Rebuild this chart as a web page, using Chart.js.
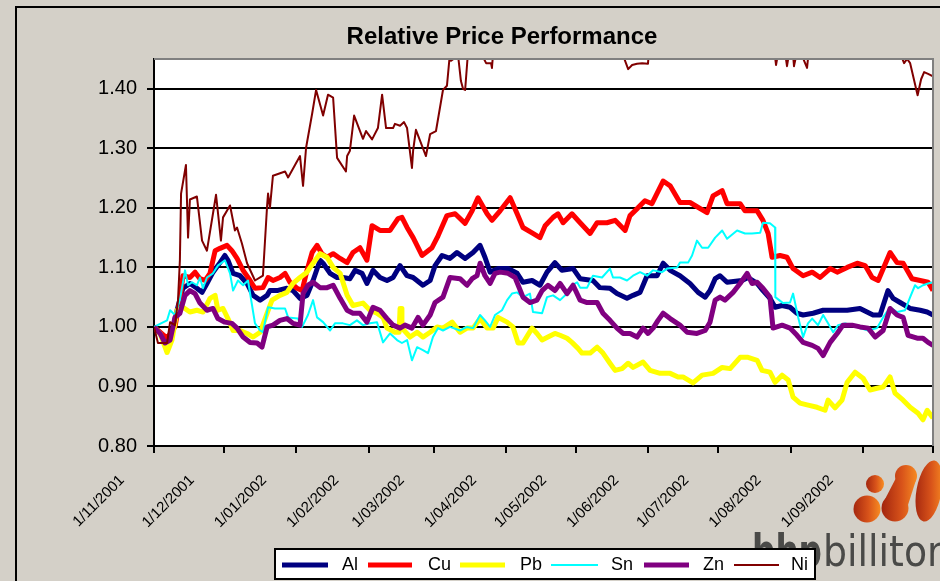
<!DOCTYPE html>
<html><head><meta charset="utf-8">
<script src="https://cdn.jsdelivr.net/npm/chart.js@4.4.1/dist/chart.umd.min.js"></script>
<style>html,body{margin:0;padding:0;background:#d4d0c8;overflow:hidden}#wrap{width:940px;height:581px}</style>
</head><body><div id="wrap"><canvas id="c" width="940" height="581"></canvas></div>
<script>
// ---- data (x = days since 1 Nov 2001, y = relative price) ----
const monthTicks = [0,30,61,92,120,151,181,212,242,273,304,334];
const monthLabels = ['1/11/2001','1/12/2001','1/01/2002','1/02/2002','1/03/2002','1/04/2002','1/05/2002','1/06/2002','1/07/2002','1/08/2002','1/09/2002',''];
const yTicks = [0.8,0.9,1.0,1.1,1.2,1.3,1.4];
const seriesNames = ['Al','Cu','Pb','Sn','Zn','Ni'];
const seriesColors = ['#000080','#ff0000','#ffff00','#00ffff','#800080','#800000'];
const seriesWidths = [5,5,5,2,5,2];

const alDays = [0,5.6,7.7,9.9,12.4,15.4,18.4,20.6,22.7,25.3,28.3,30.4,31.7,33.9,36.9,39.9,42.5,45.5,48.5,49.7,52.7,57.0,59.6,62.6,65.6,68.2,71.2,72.5,75.5,78.5,81.0,84.0,86.2,89.2,91.3,93.9,96.9,99.9,102.5,105.5,108.5,111.1,115.3,118.4,120.5,123.5,126.9,129.9,133.4,136.8,139.8,141.9,144.1,147.5,151.8,155.7,158.2,162.1,165.5,168.5,171.9,174.9,179.7,182.7,188.2,191.2,195.5,198.5,202.8,205.4,208.4,211.4,215.7,218.3,221.3,225.5,229.8,233.3,236.3,238.4,240.6,242.7,245.7,252.1,254.7,258.6,261.1,264.1,266.3,269.3,272.7,275.7,278.3,282.6,286.9,291.2,297.2,302.7,308.3,311.3,314.7,316.9,319.9,324.2,328.5,331.5,334.0];
const alValues = [1.000,0.978,0.991,1.028,1.065,1.073,1.065,1.058,1.073,1.092,1.108,1.120,1.112,1.090,1.086,1.073,1.053,1.045,1.053,1.061,1.061,1.065,1.061,1.048,1.053,1.078,1.112,1.107,1.090,1.083,1.083,1.081,1.095,1.090,1.073,1.095,1.083,1.078,1.083,1.103,1.086,1.083,1.070,1.078,1.103,1.120,1.115,1.125,1.115,1.125,1.137,1.117,1.092,1.098,1.098,1.090,1.075,1.078,1.070,1.092,1.108,1.095,1.098,1.081,1.078,1.066,1.065,1.056,1.048,1.053,1.058,1.086,1.086,1.107,1.095,1.086,1.073,1.058,1.050,1.061,1.081,1.086,1.075,1.078,1.083,1.073,1.061,1.048,1.033,1.036,1.033,1.023,1.020,1.023,1.028,1.028,1.028,1.031,1.020,1.020,1.061,1.048,1.041,1.031,1.028,1.025,1.020];

const cuDays = [0,5.6,9.0,11.1,12.4,15.4,17.6,19.7,21.9,24.0,26.2,28.3,31.3,33.4,35.6,38.2,41.2,43.3,46.7,48.9,51.0,54.0,56.2,58.3,61.3,63.5,65.6,67.8,69.9,72.0,74.2,76.8,79.8,82.8,85.3,88.3,91.3,93.5,96.9,101.2,104.6,106.3,108.5,111.1,114.9,119.2,121.8,125.6,129.1,133.4,136.4,138.9,142.8,144.9,148.4,152.7,155.7,158.2,162.1,165.5,167.7,171.1,173.2,175.4,179.2,182.7,187.0,190.0,194.2,197.7,202.0,204.1,207.5,210.5,213.5,218.3,221.3,225.5,229.8,237.1,239.7,243.6,245.7,251.3,253.4,258.6,261.1,263.3,265.0,268.4,271.4,274.0,278.3,282.2,285.6,289.9,292.9,297.2,301.5,304.9,307.9,310.5,315.6,318.6,321.2,325.0,328.5,331.9,334.0];
const cuValues = [1.000,0.981,1.000,1.045,1.086,1.083,1.092,1.081,1.078,1.090,1.128,1.132,1.137,1.128,1.115,1.095,1.078,1.065,1.066,1.083,1.078,1.083,1.090,1.075,1.065,1.061,1.095,1.125,1.137,1.123,1.117,1.123,1.115,1.108,1.125,1.133,1.112,1.170,1.162,1.162,1.182,1.184,1.167,1.150,1.120,1.133,1.153,1.187,1.190,1.174,1.195,1.217,1.190,1.179,1.195,1.217,1.190,1.167,1.158,1.150,1.170,1.184,1.190,1.175,1.190,1.175,1.157,1.175,1.175,1.179,1.162,1.187,1.200,1.212,1.207,1.245,1.237,1.209,1.209,1.192,1.220,1.229,1.207,1.207,1.195,1.195,1.179,1.157,1.117,1.120,1.117,1.098,1.086,1.092,1.083,1.098,1.092,1.100,1.107,1.103,1.083,1.078,1.125,1.108,1.107,1.081,1.078,1.075,1.061];

const pbDays = [0,2.6,5.6,7.7,9.9,12.4,15.4,18.4,21.0,24.0,26.2,27.4,29.6,31.7,33.9,36.9,39.9,42.5,45.5,48.5,50.6,54.0,57.0,59.6,62.6,65.6,68.2,71.2,74.2,76.8,79.8,82.8,85.3,89.6,92.6,95.6,98.2,99.9,103.3,105.1,105.5,106.0,106.3,109.8,112.8,115.3,118.4,121.4,123.9,127.8,131.2,134.2,136.8,139.8,142.8,145.4,147.5,151.4,153.9,156.1,158.2,162.1,164.2,166.4,168.9,171.9,174.1,177.1,179.2,181.8,183.5,187.0,190.0,192.5,195.5,197.7,200.7,203.3,205.4,209.7,212.7,217.0,221.3,224.7,226.8,231.1,235.0,239.7,243.6,247.0,251.3,254.7,258.6,260.7,264.1,266.3,269.3,271.9,274.0,277.0,280.0,284.3,287.7,289.0,292.0,295.0,297.2,300.6,304.0,307.0,310.0,312.6,315.6,317.7,321.2,324.2,327.6,329.7,331.5,334.0];
const pbValues = [1.000,0.989,0.957,0.978,1.028,1.033,1.025,1.028,1.025,1.048,1.053,1.028,1.031,1.014,0.994,0.994,0.989,0.983,0.991,1.023,1.045,1.053,1.058,1.073,1.083,1.092,1.107,1.123,1.117,1.100,1.090,1.053,1.036,1.040,1.028,1.023,1.016,0.998,0.991,0.991,1.031,1.031,0.998,0.983,0.991,0.983,0.991,1.000,0.998,1.008,0.991,0.998,0.998,1.014,0.998,0.998,1.016,1.008,1.000,0.973,0.973,0.998,0.989,0.978,0.983,0.989,0.986,0.981,0.974,0.964,0.956,0.956,0.966,0.956,0.939,0.927,0.930,0.939,0.932,0.941,0.927,0.922,0.922,0.916,0.916,0.906,0.919,0.922,0.932,0.930,0.949,0.949,0.944,0.927,0.924,0.907,0.919,0.911,0.882,0.872,0.869,0.865,0.860,0.877,0.864,0.877,0.907,0.924,0.914,0.894,0.897,0.899,0.916,0.889,0.877,0.865,0.855,0.844,0.860,0.847];

const snDays = [0,5.6,6.9,9.0,11.1,13.3,14.6,16.3,18.4,19.7,21.0,22.7,25.3,27.4,30.4,32.6,33.9,36.0,38.2,40.3,43.3,45.5,46.7,48.9,51.9,56.2,57.5,61.7,63.5,66.0,68.2,69.9,72.5,75.5,77.6,81.0,84.0,87.0,89.6,92.6,95.6,98.2,101.2,104.2,106.3,108.5,110.6,112.8,115.3,117.5,119.6,121.8,123.9,126.9,131.2,134.2,136.8,139.8,141.9,144.1,146.2,149.2,151.4,153.5,155.7,158.2,161.2,162.5,166.4,168.5,171.1,174.1,177.1,179.2,181.4,182.7,185.7,188.2,192.1,195.5,196.8,199.8,202.8,205.4,208.4,211.4,214.0,217.8,220.0,224.3,225.5,229.0,230.7,232.8,235.0,237.6,240.6,243.6,245.7,250.0,253.4,256.4,259.9,261.1,264.1,266.3,266.4,269.7,272.7,274.0,276.2,278.3,280.4,282.2,284.7,286.9,289.0,291.2,293.3,296.3,299.7,302.7,306.2,310.0,312.6,315.6,318.6,322.0,324.2,326.3,327.6,329.7,331.9,334.0];
const snValues = [1.000,1.011,1.028,1.020,1.045,1.095,1.070,1.075,1.070,1.083,1.065,1.083,1.090,1.103,1.112,1.090,1.061,1.078,1.070,1.078,1.006,0.994,0.991,1.033,1.031,1.031,1.016,1.014,1.000,1.020,1.045,1.016,1.008,0.994,1.006,1.006,1.003,1.011,1.003,1.006,1.008,0.974,0.989,0.978,0.973,0.978,0.944,0.966,0.961,0.956,0.983,0.998,0.994,1.000,0.994,1.000,0.998,1.020,1.011,1.000,1.020,1.028,1.045,1.056,1.058,1.050,1.056,1.025,1.023,1.050,1.053,1.045,1.056,1.070,1.075,1.066,1.066,1.086,1.083,1.098,1.083,1.083,1.078,1.086,1.092,1.086,1.095,1.092,1.098,1.100,1.108,1.108,1.120,1.145,1.133,1.133,1.150,1.162,1.148,1.162,1.157,1.157,1.158,1.175,1.174,1.167,1.050,1.040,1.041,1.056,1.016,0.983,1.006,1.014,1.003,1.020,1.006,0.991,1.003,1.006,1.003,0.998,0.994,0.998,1.016,1.033,1.025,1.028,1.050,1.070,1.065,1.070,1.073,1.075];

const znDays = [0,2.6,4.7,6.9,9.0,11.1,13.3,15.4,17.6,19.7,22.7,25.3,27.4,30.4,33.4,35.6,38.2,41.2,44.2,46.3,48.5,51.0,54.0,57.0,59.6,62.6,63.9,66.0,68.2,71.2,74.2,76.8,79.8,82.8,85.3,88.3,91.3,93.9,96.9,99.9,102.5,105.5,107.6,110.6,113.2,115.3,118.4,120.5,123.9,126.9,131.2,134.2,136.4,138.5,139.8,141.9,144.1,146.2,148.4,151.8,154.8,158.2,161.2,164.2,166.4,168.9,171.9,174.1,177.1,179.7,182.7,185.7,190.0,192.5,195.5,198.5,201.1,204.1,207.1,209.7,211.8,214.0,216.1,218.3,221.3,225.5,228.6,232.8,236.3,238.4,240.6,242.7,244.8,248.3,251.3,254.3,256.4,258.6,261.1,264.1,265.4,269.3,272.7,275.7,278.3,282.2,284.7,286.9,289.9,292.9,295.4,299.3,302.7,306.2,309.2,312.6,315.6,318.6,321.2,323.3,327.2,329.7,331.9,334.0];
const znValues = [1.000,0.989,0.973,0.978,1.016,1.023,1.053,1.061,1.056,1.040,1.028,1.031,1.014,1.008,1.006,0.998,0.983,0.974,0.973,0.966,1.000,1.003,1.011,1.014,1.006,1.003,1.056,1.070,1.075,1.066,1.066,1.070,1.048,1.028,1.023,1.023,1.008,1.033,1.028,1.014,1.003,0.998,1.003,0.998,1.016,1.003,1.020,1.041,1.050,1.083,1.081,1.070,1.081,1.086,1.107,1.086,1.073,1.090,1.092,1.090,1.083,1.050,1.041,1.045,1.061,1.070,1.061,1.073,1.056,1.070,1.045,1.041,1.041,1.023,1.011,0.998,0.989,0.989,0.983,0.998,0.989,0.998,1.011,1.023,1.014,1.003,0.991,0.989,0.994,1.008,1.045,1.050,1.045,1.058,1.073,1.090,1.073,1.075,1.065,1.050,0.998,1.003,0.998,0.986,0.974,0.969,0.964,0.952,0.974,0.989,1.003,1.003,1.000,0.998,0.983,0.994,1.031,1.020,1.016,0.986,0.981,0.981,0.974,0.969];

const niDays = [0,1.7,5.6,6.9,9.0,10.3,11.1,11.6,13.7,14.6,15.4,18.4,20.6,22.7,26.6,28.7,29.6,32.6,34.7,35.6,37.7,39.9,43.3,46.7,48.5,48.9,49.7,51.0,56.2,57.5,62.6,63.9,65.2,67.8,69.5,72.5,74.6,76.8,78.5,82.3,82.8,84.0,85.8,89.6,90.9,93.5,96.0,97.8,99.5,102.5,103.3,105.5,107.2,108.5,110.6,111.1,112.3,116.6,118.4,120.9,123.9,125.6,126.9,127.4,129.1,130.4,131.6,132.5,133.4,134.6,135.5,138.9,141.5,142.4,144.5,144.9,145.8,150.0,157.0,165.0,175.0,185.0,195.0,200.7,201.5,203.3,205.0,207.1,209.3,211.8,212.3,218.0,228.0,240.0,252.0,260.0,265.4,266.3,266.7,267.6,270.6,271.4,272.3,274.0,274.4,275.3,277.9,280.0,280.9,290.0,300.0,310.0,318.0,320.3,320.7,321.6,322.9,324.2,327.4,328.9,330.2,331.9,334.0];
const niValues = [1.000,0.973,0.973,1.008,1.003,1.045,1.112,1.224,1.272,1.150,1.214,1.219,1.145,1.128,1.222,1.145,1.184,1.204,1.162,1.167,1.140,1.107,1.078,1.086,1.204,1.224,1.200,1.254,1.261,1.251,1.287,1.237,1.301,1.358,1.398,1.355,1.390,1.385,1.284,1.261,1.287,1.296,1.355,1.316,1.329,1.315,1.334,1.390,1.334,1.334,1.341,1.338,1.344,1.334,1.267,1.296,1.331,1.287,1.324,1.329,1.398,1.405,1.460,1.447,1.452,1.455,1.413,1.400,1.398,1.460,1.480,1.500,1.450,1.443,1.443,1.435,1.480,1.490,1.520,1.500,1.530,1.510,1.500,1.480,1.452,1.433,1.440,1.442,1.443,1.442,1.470,1.500,1.530,1.520,1.550,1.500,1.470,1.453,1.440,1.460,1.460,1.438,1.460,1.457,1.438,1.455,1.455,1.435,1.470,1.500,1.530,1.500,1.480,1.470,1.452,1.443,1.450,1.443,1.389,1.416,1.428,1.425,1.421];

const seriesDays = [alDays,cuDays,pbDays,snDays,znDays,niDays];
const seriesValues = [alValues,cuValues,pbValues,snValues,znValues,niValues];

const FONT = '"Liberation Sans", Arial, sans-serif';

function pts(d, v){ const n = Math.min(d.length, v.length); const out=[]; for(let i=0;i<n;i++) out.push({x:d[i], y:v[i]}); return out; }

const datasets = seriesNames.map((name,i)=>({
  label:name, data:pts(seriesDays[i], seriesValues[i]),
  borderColor:seriesColors[i], backgroundColor:seriesColors[i],
  borderWidth:seriesWidths[i], pointRadius:0, tension:0, fill:false,
  order: seriesNames.length - i, borderJoinStyle:'round', borderCapStyle:'butt'
}));

function blobGrad(ctx, x0, x1){
  const g = ctx.createLinearGradient(x0,0,x1,0);
  g.addColorStop(0,'#a3260f'); g.addColorStop(0.55,'#d8531a'); g.addColorStop(1,'#f88d22');
  return g;
}
function drawLogo(ctx){
  ctx.save();
  ctx.fillStyle = blobGrad(ctx, 866, 884);
  ctx.beginPath(); ctx.arc(875,484,9,0,Math.PI*2); ctx.fill();
  ctx.fillStyle = blobGrad(ctx, 853, 881);
  ctx.beginPath(); ctx.arc(867,509,13.5,0,Math.PI*2); ctx.fill();
  ctx.fillStyle = blobGrad(ctx, 882, 918);
  ctx.beginPath(); ctx.arc(906,476,11,0,Math.PI*2); ctx.fill();
  ctx.beginPath(); ctx.arc(895,508,13.5,0,Math.PI*2); ctx.fill();
  ctx.beginPath(); ctx.moveTo(896,478); ctx.lineTo(916,480); ctx.lineTo(908,505); ctx.lineTo(883,503); ctx.closePath(); ctx.fill();
  ctx.fillStyle = blobGrad(ctx, 914, 945);
  ctx.beginPath(); ctx.ellipse(929,491,12.5,31,0.18,0,Math.PI*2); ctx.fill();
  ctx.fillStyle = '#4a4a48';
  ctx.textBaseline = 'alphabetic'; ctx.textAlign = 'left';
  ctx.font = 'bold 44px "DejaVu Sans", sans-serif';
  ctx.fillText('bhp', 752, 566, 70);
  ctx.font = '43px "DejaVu Sans", sans-serif';
  ctx.fillText('billiton', 823, 566, 128);
  ctx.restore();
}

const decor = {
  id:'decor',
  beforeDraw(chart){
    const ctx = chart.ctx, a = chart.chartArea;
    ctx.save();
    ctx.fillStyle = '#d4d0c8'; ctx.fillRect(0,0,chart.width,chart.height);
    ctx.strokeStyle = '#000'; ctx.lineWidth = 2;
    ctx.beginPath(); ctx.moveTo(16,chart.height+4); ctx.lineTo(16,7); ctx.lineTo(chart.width+4,7); ctx.stroke();
    ctx.fillStyle = '#fff'; ctx.fillRect(a.left,a.top,a.right-a.left,a.bottom-a.top);
    ctx.fillStyle = '#000'; ctx.font = 'bold 24px ' + FONT;
    ctx.textAlign = 'center'; ctx.textBaseline = 'middle';
    ctx.fillText('Relative Price Performance', 502, 37);
    drawLogo(ctx);
    ctx.restore();
  },
  afterDraw(chart){
    const ctx = chart.ctx, a = chart.chartArea, xs = chart.scales.x;
    ctx.save();
    ctx.strokeStyle = '#808080'; ctx.lineWidth = 2;
    ctx.beginPath(); ctx.moveTo(a.left, a.top); ctx.lineTo(a.right, a.top); ctx.lineTo(a.right, a.bottom); ctx.stroke();
    ctx.fillStyle = '#000'; ctx.font = '15px ' + FONT;
    ctx.textAlign = 'right'; ctx.textBaseline = 'middle';
    monthTicks.forEach((t,i)=>{
      const lab = monthLabels[i]; if(!lab) return;
      const px = xs.getPixelForValue(t);
      ctx.save(); ctx.translate(px - 32, 478); ctx.rotate(-Math.PI/4); ctx.fillText(lab, 0, 0); ctx.restore();
    });
    ctx.fillStyle = '#fff'; ctx.fillRect(275,549,540,30);
    ctx.strokeStyle = '#000'; ctx.lineWidth = 2; ctx.strokeRect(275,549,540,30);
    const sw = [[282,328,342],[368,412,428],[460,505,520],[551,598,611],[644,689,703],[734,779,791]];
    ctx.font = '18px ' + FONT; ctx.textAlign = 'left'; ctx.textBaseline = 'middle';
    seriesNames.forEach((n,i)=>{
      ctx.strokeStyle = seriesColors[i]; ctx.lineWidth = seriesWidths[i];
      ctx.beginPath(); ctx.moveTo(sw[i][0],565); ctx.lineTo(sw[i][1],565); ctx.stroke();
      ctx.fillStyle = '#000'; ctx.fillText(n, sw[i][2], 565);
    });
    ctx.restore();
  }
};

new Chart(document.getElementById('c'), {
  type:'line',
  data:{datasets},
  options:{
    responsive:false, animation:false, devicePixelRatio:1,
    layout:{padding:{top:59,right:7,left:0,bottom:0}},
    plugins:{legend:{display:false}, title:{display:false}, tooltip:{enabled:false}},
    scales:{
      x:{type:'linear', min:0, max:334,
        afterBuildTicks:(s)=>{ s.ticks = monthTicks.map(v=>({value:v})); },
        afterFit:(s)=>{ s.height = 135; },
        ticks:{display:false},
        grid:{display:true, drawOnChartArea:false, drawTicks:true, tickLength:7, color:'#000', lineWidth:2},
        border:{display:true, color:'#000', width:2}
      },
      y:{type:'linear', min:0.8, max:1.45,
        afterBuildTicks:(s)=>{ s.ticks = yTicks.map(v=>({value:v})); },
        afterFit:(s)=>{ s.width = 154; },
        ticks:{color:'#000', font:{family:FONT, size:20}, padding:10, callback:(v)=>Number(v).toFixed(2)},
        grid:{color:'#000', lineWidth:2, drawTicks:true, tickLength:7},
        border:{display:true, color:'#000', width:2}
      }
    }
  },
  plugins:[decor]
});
</script>
</body></html>
